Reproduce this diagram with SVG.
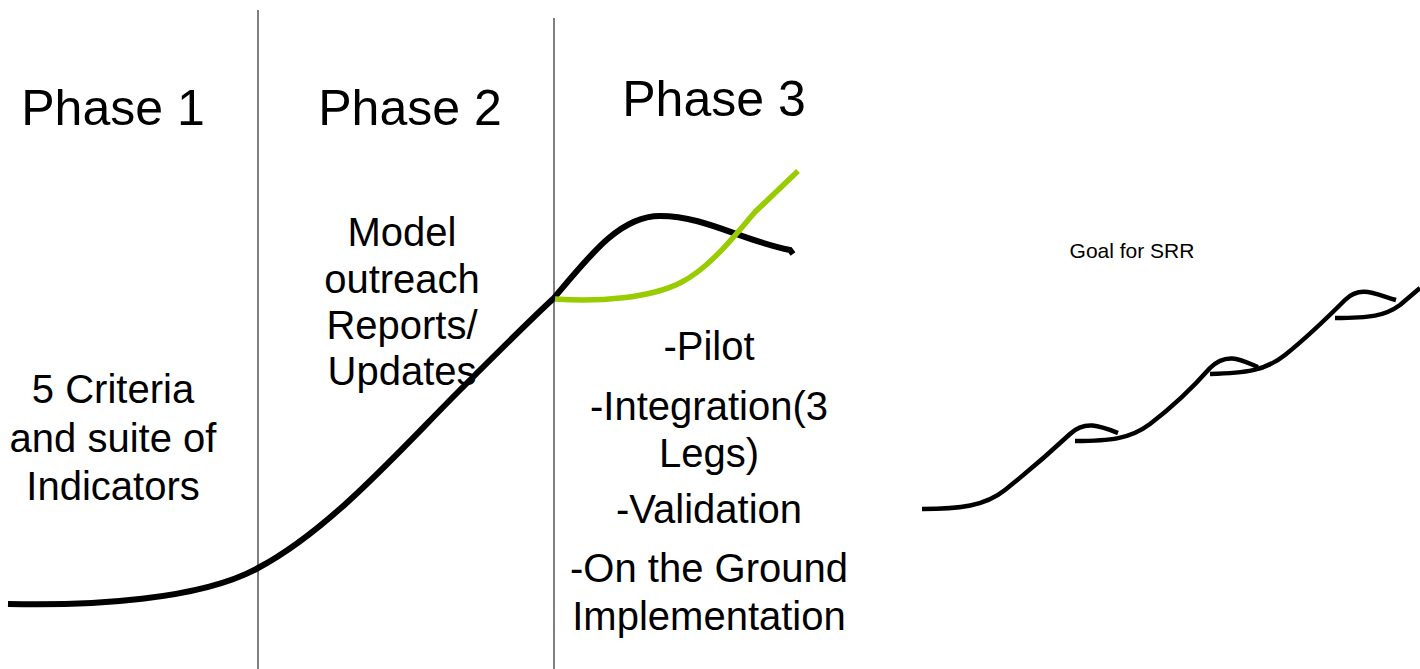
<svg xmlns="http://www.w3.org/2000/svg" width="1420" height="669" viewBox="0 0 1420 669">
<style>
text{font-family:"Liberation Sans",Arial,sans-serif;fill:#000;text-anchor:middle}
.h{font-size:50px}
.b{font-size:40px}
.c{fill:none;stroke:#000;stroke-width:6;stroke-linecap:butt}
.d{fill:none;stroke:#000;stroke-width:4.5;stroke-linecap:butt}
.v{stroke:#000;stroke-width:1}
</style>
<rect width="1420" height="669" fill="#fff"/>
<g id="dividers">
<line class="v" x1="258" y1="10" x2="258" y2="669"/>
<line class="v" x1="554" y1="18" x2="554" y2="669"/>
</g>
<g id="connectors">
<path class="c" d="M8,604 C90,606 200,600 258,568 C330,530 400,450 460,390 C500,350 530,320 554,298 C590,255 620,216 660,216 C705,216 740,240 790,250 L793,254"/>
<path fill="none" stroke="#99cc00" stroke-width="5.5" d="M555,299 C600,302 650,298 680,283 C710,268 735,235 755,212 L798,171"/>
<path class="d" d="M922,509 C960,509 985,506 1005,490 C1030,470 1055,448 1070,434 C1085,420 1100,426 1118,433"/>
<path class="d" d="M1075,441 C1110,441 1130,439 1150,424 C1175,405 1195,385 1210,368 C1228,350 1245,362 1258,367"/>
<path class="d" d="M1210,374 C1245,373 1265,371 1285,355 C1310,335 1330,315 1345,300 C1360,285 1375,294 1396,300"/>
<path class="d" d="M1335,318 C1370,318 1385,316 1400,305 L1420,288"/>
</g>
<g id="phase1">
<text class="h" x="113" y="125">Phase 1</text>
<text class="b" x="113" y="403">5 Criteria</text>
<text class="b" x="113" y="452">and suite of</text>
<text class="b" x="113" y="500">Indicators</text>
</g>
<g id="phase2">
<text class="h" x="410" y="125">Phase 2</text>
<text class="b" x="402" y="246">Model</text>
<text class="b" x="402" y="293">outreach</text>
<text class="b" x="402" y="339">Reports/</text>
<text class="b" x="402" y="385">Updates</text>
</g>
<g id="phase3">
<text class="h" x="714" y="116">Phase 3</text>
<text class="b" x="709" y="360">-Pilot</text>
<text class="b" x="709" y="420">-Integration(3</text>
<text class="b" x="709" y="467">Legs)</text>
<text class="b" x="709" y="523">-Validation</text>
<text class="b" x="709" y="582">-On the Ground</text>
<text class="b" x="709" y="630">Implementation</text>
</g>
<g id="goal">
<text x="1132" y="258" font-size="21">Goal for SRR</text>
</g>
</svg>
